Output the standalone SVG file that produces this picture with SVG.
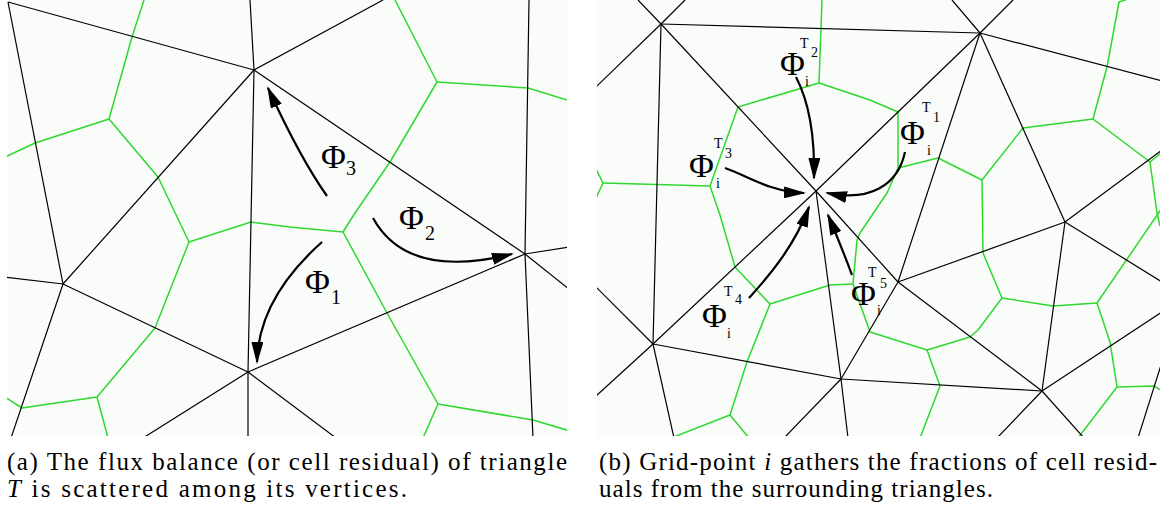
<svg xmlns="http://www.w3.org/2000/svg" width="1163" height="514" viewBox="0 0 1163 514">
<style>
.bk{fill:none;stroke:#000;stroke-width:1.2}
.gr{fill:none;stroke:#2fd82f;stroke-width:1.5;stroke-linejoin:round}
.ar{fill:none;stroke:#000;stroke-width:2.2;marker-end:url(#ah)}
.phi{font-size:34px;fill:#000}
.sub{font-size:20px;fill:#000}
.sm{font-size:14px;fill:#000}
.cap{font-size:25px;fill:#000}
.it{font-style:italic}
</style>
<defs>
<marker id="ah" markerUnits="userSpaceOnUse" markerWidth="22" markerHeight="12" refX="20" refY="6" orient="auto">
<path d="M0,0 L22,6 L0,12 z" fill="#000"/>
</marker>
<clipPath id="cl"><rect x="7" y="0" width="560" height="436"/></clipPath>
<clipPath id="cr"><rect x="597" y="0" width="563" height="436"/></clipPath>
</defs>
<rect width="1163" height="514" fill="#fff"/>
<rect x="7" y="0" width="560" height="436" fill="#fafcfa"/>
<rect x="597" y="0" width="563" height="436" fill="#fafcfa"/>

<g id="left-mesh" clip-path="url(#cl)">
<g id="left-green" class="gr">
<polyline points="144,0 132,37 109,119"/>
<polyline points="109,119 35,143 5,157"/>
<polyline points="109,119 158,177 189,242"/>
<polyline points="189,242 251,222 290,227 343,232"/>
<polyline points="343,232 355,213 390,162 437,82"/>
<polyline points="437,82 395,0"/>
<polyline points="437,82 528,88 570,101"/>
<polyline points="343,232 387,313 438,404"/>
<polyline points="438,404 533,420 570,431"/>
<polyline points="438,404 423,438"/>
<polyline points="189,242 155,328 97,397"/>
<polyline points="97,397 22,408 5,397"/>
<polyline points="97,397 108,438"/>
</g>
<g id="left-black" class="bk">
<line x1="8" y1="2" x2="254" y2="70"/>
<line x1="8" y1="2" x2="63" y2="284"/>
<line x1="250" y1="0" x2="254" y2="70"/>
<line x1="254" y1="70" x2="248" y2="372"/>
<line x1="248" y1="372" x2="248" y2="438"/>
<line x1="254" y1="70" x2="383" y2="0"/>
<line x1="254" y1="70" x2="525" y2="254"/>
<line x1="254" y1="70" x2="63" y2="284"/>
<polyline points="529,0 525,254 533,438"/>
<line x1="525" y1="254" x2="570" y2="247"/>
<line x1="525" y1="254" x2="570" y2="290"/>
<line x1="525" y1="254" x2="248" y2="372"/>
<line x1="63" y1="284" x2="4" y2="277"/>
<line x1="63" y1="284" x2="11" y2="438"/>
<line x1="63" y1="284" x2="248" y2="372"/>
<line x1="248" y1="372" x2="143" y2="438"/>
<line x1="248" y1="372" x2="336" y2="438"/>
</g>
</g>

<g id="right-mesh" clip-path="url(#cr)">
<g id="right-green" class="gr">
<polyline points="822,0 821,28 819,83"/>
<line x1="819" y1="83" x2="738" y2="107"/>
<polyline points="819,83 870,100 898,112"/>
<line x1="898" y1="112" x2="898" y2="168"/>
<line x1="898" y1="168" x2="938" y2="158"/>
<line x1="938" y1="158" x2="982" y2="180"/>
<line x1="982" y1="180" x2="1023" y2="128"/>
<line x1="1023" y1="128" x2="1093" y2="119"/>
<polyline points="1093,119 1107,67 1119,2 1128,-1"/>
<line x1="1093" y1="119" x2="1150" y2="162"/>
<polyline points="1150,162 1157,213 1160,226"/>
<line x1="1150" y1="162" x2="1162" y2="152"/>
<line x1="738" y1="107" x2="710" y2="186"/>
<line x1="710" y1="186" x2="603" y2="183"/>
<line x1="603" y1="183" x2="596" y2="169"/>
<line x1="603" y1="183" x2="596" y2="198"/>
<polyline points="710,186 720,215 735,267"/>
<line x1="735" y1="267" x2="770" y2="304"/>
<polyline points="770,304 830,285 853,284"/>
<polyline points="898,168 887,193 860,233 857,240 853,284"/>
<polyline points="770,304 747,362 730,415"/>
<line x1="730" y1="415" x2="671" y2="438"/>
<line x1="730" y1="415" x2="749" y2="438"/>
<polyline points="853,284 870,332 927,350"/>
<polyline points="927,350 940,386 920,438"/>
<polyline points="927,350 970,337 978,330 1002,298"/>
<polyline points="982,180 983,253 1002,298"/>
<polyline points="1002,298 1053,306 1097,303"/>
<line x1="1097" y1="303" x2="1162" y2="208"/>
<polyline points="1097,303 1110,342 1117,387"/>
<polyline points="1117,387 1154,386 1164,392"/>
<line x1="1117" y1="387" x2="1078" y2="438"/>
</g>
<g id="right-black" class="bk">
<line x1="661" y1="24" x2="638" y2="0"/>
<line x1="661" y1="24" x2="685" y2="0"/>
<line x1="661" y1="24" x2="596" y2="87"/>
<line x1="661" y1="24" x2="980" y2="33"/>
<line x1="661" y1="24" x2="653" y2="344"/>
<line x1="661" y1="24" x2="816" y2="191"/>
<line x1="980" y1="33" x2="952" y2="0"/>
<line x1="980" y1="33" x2="1013" y2="0"/>
<line x1="980" y1="33" x2="1162" y2="81"/>
<line x1="980" y1="33" x2="816" y2="191"/>
<line x1="980" y1="33" x2="898" y2="282"/>
<line x1="980" y1="33" x2="1065" y2="222"/>
<line x1="1065" y1="222" x2="1162" y2="150"/>
<line x1="1065" y1="222" x2="1162" y2="282"/>
<line x1="1065" y1="222" x2="898" y2="282"/>
<line x1="1065" y1="222" x2="1042" y2="391"/>
<line x1="1042" y1="391" x2="841" y2="379"/>
<line x1="1042" y1="391" x2="1162" y2="312"/>
<line x1="1042" y1="391" x2="997" y2="438"/>
<line x1="1042" y1="391" x2="1084" y2="438"/>
<line x1="898" y1="282" x2="1042" y2="391"/>
<line x1="898" y1="282" x2="816" y2="191"/>
<line x1="898" y1="282" x2="841" y2="379"/>
<line x1="653" y1="344" x2="596" y2="287"/>
<line x1="653" y1="344" x2="596" y2="396"/>
<line x1="653" y1="344" x2="674" y2="438"/>
<line x1="653" y1="344" x2="841" y2="379"/>
<line x1="653" y1="344" x2="816" y2="191"/>
<line x1="841" y1="379" x2="784" y2="438"/>
<line x1="841" y1="379" x2="848" y2="438"/>
<line x1="841" y1="379" x2="816" y2="191"/>
<line x1="1162" y1="362" x2="1138" y2="438"/>
</g>
</g>

<g id="connectors">
<path class="ar" d="M327,196 C305,165 285,125 268,88"/>
<path class="ar" d="M373,218 C395,258 440,272 512,254"/>
<path class="ar" d="M322,242 C285,275 258,315 257,362"/>
<path class="ar" d="M796,77 C808,100 815,130 814,178"/>
<path class="ar" d="M725,168 C748,176 770,192 804,193"/>
<path class="ar" d="M905,152 C898,185 870,202 827,193"/>
<path class="ar" d="M749,298 C770,275 795,245 809,207"/>
<path class="ar" d="M852,275 Q842,248 828,215"/>
</g>

<g id="labels" font-family="'Liberation Serif', 'DejaVu Serif', serif">
<g id="label-phi3"><text class="phi" x="321" y="168">Φ</text><text class="sub" x="346" y="175">3</text></g>
<g id="label-phi2"><text class="phi" x="399" y="229">Φ</text><text class="sub" x="425" y="240">2</text></g>
<g id="label-phi1"><text class="phi" x="305" y="293">Φ</text><text class="sub" x="331" y="304">1</text></g>

<g id="label-T2"><text class="phi" x="780" y="75">Φ</text><text class="sm" x="800" y="48">T</text><text class="sm" x="811" y="57">2</text><text class="sm" x="805" y="86">i</text></g>
<g id="label-T3"><text class="phi" x="689" y="177">Φ</text><text class="sm" x="714" y="148">T</text><text class="sm" x="725" y="158">3</text><text class="sm" x="716" y="188">i</text></g>
<g id="label-T1"><text class="phi" x="900" y="144">Φ</text><text class="sm" x="922" y="112">T</text><text class="sm" x="933" y="122">1</text><text class="sm" x="927" y="155">i</text></g>
<g id="label-T4"><text class="phi" x="702" y="327">Φ</text><text class="sm" x="724" y="296">T</text><text class="sm" x="735" y="304">4</text><text class="sm" x="727" y="338">i</text></g>
<g id="label-T5"><text class="phi" x="851" y="305">Φ</text><text class="sm" x="868" y="277">T</text><text class="sm" x="880" y="288">5</text><text class="sm" x="877" y="315">i</text></g>
</g>

<g id="captions" font-family="'Liberation Serif', 'DejaVu Serif', serif">
<g id="caption-a">
<text class="cap" x="7" y="470" textLength="560" lengthAdjust="spacing">(a) The flux balance (or cell residual) of triangle</text>
<text class="cap" x="7" y="497" textLength="400" lengthAdjust="spacing"><tspan class="it">T</tspan> is scattered among its vertices.</text>
</g>
<g id="caption-b">
<text class="cap" x="599" y="470" textLength="558" lengthAdjust="spacing">(b) Grid-point <tspan class="it">i</tspan> gathers the fractions of cell resid-</text>
<text class="cap" x="599" y="497" textLength="394" lengthAdjust="spacing">uals from the surrounding triangles.</text>
</g>
</g>
</svg>
